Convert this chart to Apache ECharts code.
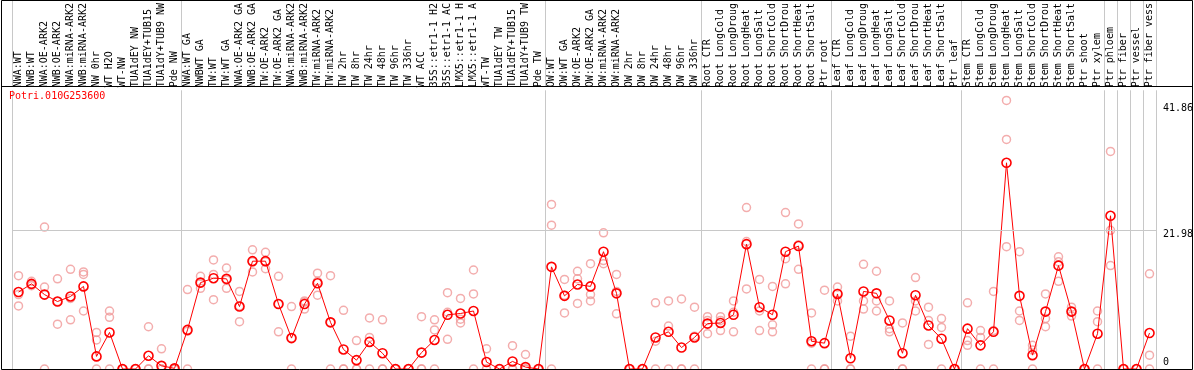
<!DOCTYPE html>
<html><head><meta charset="utf-8">
<script src="https://cdn.jsdelivr.net/npm/echarts@6/dist/echarts.min.js"></script>
<style>html,body{margin:0;padding:0;background:#fff}#c{width:1194px;height:370px}</style>
</head><body><div id="c"></div>
<script>
const geneTitle = 'Potri.010G253600';
const categories = [
"NWA:WT","NWB:WT","NWA:OE-ARK2","NWB:OE-ARK2","NWA:miRNA-ARK2","NWB:miRNA-ARK2","NW 0hr","WT H2O","WT-NW","TUA1dEY NW","TUA1dEY+TUB15","TUA1dY+TUB9 NW","Pde NW",
"NWA:WT GA","NWBWT GA","TW:WT","TW:WT GA","NWA:OE-ARK2 GA","NWB:OE-ARK2 GA","TW:OE-ARK2","TW:OE-ARK2 GA","NWA:miRNA-ARK2","NWB:miRNA-ARK2","TW:miRNA-ARK2","TW:miRNA-ARK2","TW 2hr","TW 8hr","TW 24hr","TW 48hr","TW 96hr","TW 336hr","WT ACC","35S::etr1-1 H2","35S::etr1-1 AC","LMX5::etr1-1 H","LMX5::etr1-1 A","WT-TW","TUA1dEY TW","TUA1dEY+TUB15","TUA1dY+TUB9 TW","Pde TW",
"OW:WT","OW:WT GA","OW:OE-ARK2","OW:OE-ARK2 GA","OW:miRNA-ARK2","OW:miRNA-ARK2","OW 2hr","OW 8hr","OW 24hr","OW 48hr","OW 96hr","OW 336hr",
"Root CTR","Root LongCold","Root LongDroug","Root LongHeat","Root LongSalt","Root ShortCold","Root ShortDrou","Root ShortHeat","Root ShortSalt","Ptr root",
"Leaf CTR","Leaf LongCold","Leaf LongDroug","Leaf LongHeat","Leaf LongSalt","Leaf ShortCold","Leaf ShortDrou","Leaf ShortHeat","Leaf ShortSalt","Ptr leaf",
"Stem CTR","Stem LongCold","Stem LongDroug","Stem LongHeat","Stem LongSalt","Stem ShortCold","Stem ShortDrou","Stem ShortHeat","Stem ShortSalt","Ptr shoot","Ptr xylem",
"Ptr phloem","Ptr fiber","Ptr vessel","Ptr fiber vess"
];
const meanValues = [
12.2,13.5,11.8,10.7,11.5,13.1,2.0,5.8,0,0,2.1,0.5,0.1,
6.2,13.7,14.4,14.3,9.9,17.1,17.1,10.3,4.9,10.3,13.6,7.4,3.1,1.4,4.3,2.5,0,0,2.6,4.6,8.6,8.8,9.2,1.1,0,1.2,0.3,0,
16.2,11.6,13.4,13.1,18.6,12.0,0,0,5.0,5.9,3.4,5.0,
7.2,7.3,8.6,19.8,9.8,8.6,18.6,19.5,4.4,4.1,
11.9,1.7,12.3,12.0,7.7,2.5,11.7,6.9,4.8,0,
6.4,3.75,5.9,32.7,11.6,2.2,9.1,16.4,9.1,0,5.6,
24.3,0,0,5.7
];
const rep1 = [
14.8,13.9,22.5,14.3,15.8,15.4,5.8,9.2,0,0,6.7,3.2,0,
12.6,14.7,17.3,16.0,12.3,18.9,18.5,14.7,9.9,10.8,15.2,14.8,9.3,4.5,8.1,7.8,0,0,8.3,7.8,12.1,11.2,15.7,3.2,0,3.7,2.3,0,
26.1,14.2,15.5,16.7,21.6,15.0,0,0,10.5,10.8,11.1,9.8,
8.3,8.3,10.8,25.6,14.2,13.1,24.8,23.0,8.9,12.5,
13.0,5.2,16.6,15.5,10.8,7.3,14.5,9.8,8.0,0,
10.5,6.1,12.3,42.6,18.6,3.75,11.9,17.8,9.8,0,9.2,
34.5,0,0,15.1
];
const rep2 = [
11.8,13.4,13.0,10.7,11.2,15.0,4.6,8.2,0,0,0,0,0,
6.0,13.6,15.0,14.1,10.0,17.0,17.0,10.3,4.9,10.6,13.9,7.4,0,0,5.0,0,0,0,0,6.2,9.0,7.9,11.9,0,0,0,0,0,
22.8,11.7,14.3,11.8,17.2,12.3,0,0,4.4,6.8,0,5.2,
7.7,7.7,9.0,20.2,9.2,7.0,17.5,19.7,4.1,0,
12.0,0,10.8,10.8,6.4,0,10.8,7.7,6.6,0,
4.5,5.0,6.1,36.4,9.2,3.0,8.0,17.0,9.1,0,7.5,
22.0,0,0,2.2
];
const rep3 = [
10.0,13.2,0,7.1,7.8,9.2,0,0,0,0,0,0,0,
0,12.8,11.0,12.8,7.5,15.4,15.9,5.9,0,9.5,11.7,0,0,0,0,0,0,0,0,0,4.7,7.3,0,0,0,0,0,0,
0,8.9,10.4,10.8,16.7,8.75,0,0,0,0,0,0,
5.6,6.1,5.9,12.7,6.1,5.9,13.5,15.8,0,0,
10.8,0,9.5,9.2,5.9,0,9.2,3.9,0,0,
3.75,0,0,19.4,7.7,0,6.7,13.9,8.4,0,0,
16.4,0,0,0
];
const yTickValues = [0, 21.98, 41.86];
const groupStarts = [0, 13, 41, 53, 63, 73, 84, 85, 86, 87];

const FONT = 'DejaVu Sans Mono';
const repData = [];
[rep1, rep2, rep3].forEach(r => r.forEach((v, i) => repData.push([i, v])));
const sepInterval = (idx) => groupStarts.indexOf(idx) >= 0;
const gridLineColor = '#c8c8c8';
const clear = 'rgba(0,0,0,0)';

const chart = echarts.init(document.getElementById('c'), null, {renderer: 'canvas'});
chart.setOption({
  animation: false,
  backgroundColor: '#fff',
  grid: [
    {left: 12, top: 86, width: 1144, height: 283},
    {left: 12, top: 0, width: 1144, height: 86}
  ],
  xAxis: [
    {
      type: 'category', gridIndex: 0, data: categories, position: 'top', boundaryGap: true,
      axisLine: {show: false}, axisTick: {show: false},
      axisLabel: {rotate: 90, interval: 0, margin: 3, fontFamily: FONT, fontSize: 10, color: '#000'},
      splitLine: {show: true, interval: sepInterval, lineStyle: {color: gridLineColor, width: 1}}
    },
    {
      type: 'category', gridIndex: 1, data: categories, boundaryGap: true,
      axisLine: {show: false}, axisTick: {show: false}, axisLabel: {show: false},
      splitLine: {show: true, interval: sepInterval, lineStyle: {color: gridLineColor, width: 1}}
    }
  ],
  yAxis: [
    {type: 'value', gridIndex: 0, min: 0, max: 44.2, show: false},
    {type: 'value', gridIndex: 1, min: 0, max: 1, show: false}
  ],
  graphic: [
    {type: 'rect', silent: true, z: 100, shape: {x: 1.5, y: 0.5, width: 1191, height: 369},
     style: {fill: 'none', stroke: '#000', lineWidth: 1}},
    {type: 'line', silent: true, z: 100, shape: {x1: 1, y1: 86.5, x2: 1193, y2: 86.5},
     style: {stroke: '#000', lineWidth: 1}},
    {type: 'text', silent: true, z: 100, left: 9, top: 91,
     style: {text: geneTitle, fill: '#ff0000', font: '10px "' + FONT + '"'}}
  ],
  series: [
    {
      type: 'scatter', xAxisIndex: 0, yAxisIndex: 0, data: repData, z: 2,
      symbol: 'circle', symbolSize: 8,
      itemStyle: {color: clear, borderColor: '#f09898', borderWidth: 1.5},
      silent: true
    },
    {
      type: 'line', xAxisIndex: 0, yAxisIndex: 0, data: meanValues, z: 3,
      symbol: 'circle', symbolSize: 9, showAllSymbol: true,
      lineStyle: {color: '#ff0000', width: 1},
      itemStyle: {color: clear, borderColor: '#ff0000', borderWidth: 1.6},
      silent: true,
      markLine: {
        silent: true, symbol: 'none', animation: false,
        label: {show: true, position: 'end', distance: 7, fontFamily: FONT, fontSize: 10, color: '#000',
                formatter: p => String(p.value)},
        data: [
          {yAxis: yTickValues[0], lineStyle: {color: clear, width: 1}, label: {offset: [0, -7]}},
          {yAxis: yTickValues[1], lineStyle: {color: gridLineColor, width: 1, type: 'solid'}, label: {offset: [0, 4]}},
          {yAxis: yTickValues[2], lineStyle: {color: clear, width: 1}, label: {offset: [0, 3]}}
        ]
      }
    }
  ]
});
</script>
</body></html>
